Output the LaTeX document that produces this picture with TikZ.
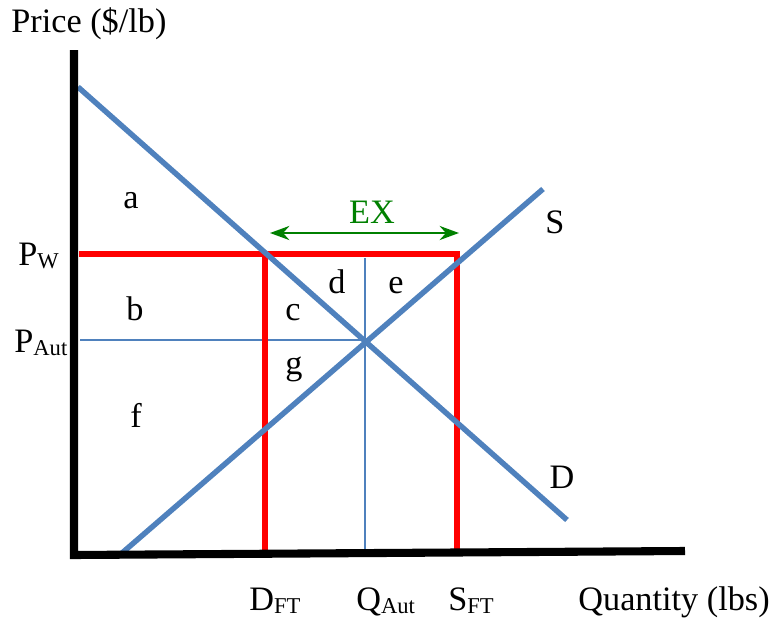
\documentclass[tikz,border=0pt]{standalone}
\usepackage{fontspec}
\setmainfont{Liberation Serif}
\usepackage{graphicx}
\usetikzlibrary{arrows.meta}

\newcommand{\lowsub}[1]{\raisebox{-0.1em}{\scalebox{0.66}{#1}}}

\begin{document}
\begin{tikzpicture}[x=0.02cm, y=-0.02cm, >=Stealth,
  lbl/.style={font=\fontsize{19.5}{21}\selectfont, inner sep=0pt},
  axis/.style={line width=4.6pt},
  curve/.style={line width=3.1pt, draw={rgb,255:red,79;green,129;blue,189}},
  guide/.style={line width=0.9pt, draw={rgb,255:red,79;green,129;blue,189}},
  trade/.style={line width=3.4pt, draw=red}]
  \useasboundingbox (0,0) rectangle (775,619);

  % corner points
  \coordinate (yTop) at (74,50);
  \coordinate (O) at (74,555);
  \coordinate (xEnd) at (685,551);
  \coordinate (dTop) at (78,87);
  \coordinate (dEnd) at (567,520);
  \coordinate (sLow) at (122,553);
  \coordinate (sTop) at (543,189);
  \coordinate (E) at (365,340);

  % autarky guides
  \draw[guide] (80,340) -- (E);
  \draw[guide] (365,258) -- (365,550);

  % world price and free trade quantities
  \draw[trade] (79,254) -- (460,254);
  \draw[trade] (265,254) -- (265,550);
  \draw[trade, line join=miter] (440,254) -- (457,254) -- (457,550);

  % demand and supply
  \draw[curve] (dTop) -- (dEnd);
  \draw[curve] (sLow) -- (sTop);

  % axes
  \draw[axis, line join=miter] (yTop) -- (O) -- (xEnd);

  % exports
  \coordinate (exL) at (270,233);
  \coordinate (exR) at (459,233);
  \draw[{Stealth[length=11pt,width=8pt]}-{Stealth[length=11pt,width=8pt]}, line width=1.5pt, draw={rgb,255:red,0;green,128;blue,0}] (exL) -- (exR);
  \node[lbl, anchor=base, text={rgb,255:red,0;green,128;blue,0}] (ex) at (372,223) {EX};

  % axis titles
  \node[lbl, anchor=base west] (price) at (11,32) {Price (\$/lb)};
  \node[lbl, anchor=base east] (qty) at (770,610) {Quantity (lbs)};

  % price and quantity marks
  \node[lbl, anchor=base west] (pw) at (18,265) {P\lowsub{W}};
  \node[lbl, anchor=base west] (paut) at (14,352) {P\lowsub{Aut}};
  \node[lbl, anchor=base west] (dft) at (249,610) {D\lowsub{FT}};
  \node[lbl, anchor=base west] (qaut) at (356,610) {Q\lowsub{Aut}};
  \node[lbl, anchor=base west] (sft) at (448,610) {S\lowsub{FT}};

  % curve names
  \node[lbl, anchor=base] (sname) at (555,233) {S};
  \node[lbl, anchor=base] (dname) at (562,488) {D};

  % surplus areas
  \node[lbl, anchor=base] (a) at (131,208) {a};
  \node[lbl, anchor=base] (b) at (135,320) {b};
  \node[lbl, anchor=base] (c) at (293,320) {c};
  \node[lbl, anchor=base] (d) at (337,293) {d};
  \node[lbl, anchor=base] (e) at (396,293) {e};
  \node[lbl, anchor=base] (g) at (294,374) {g};
  \node[lbl, anchor=base] (f) at (136,427) {f};
\end{tikzpicture}
\end{document}
